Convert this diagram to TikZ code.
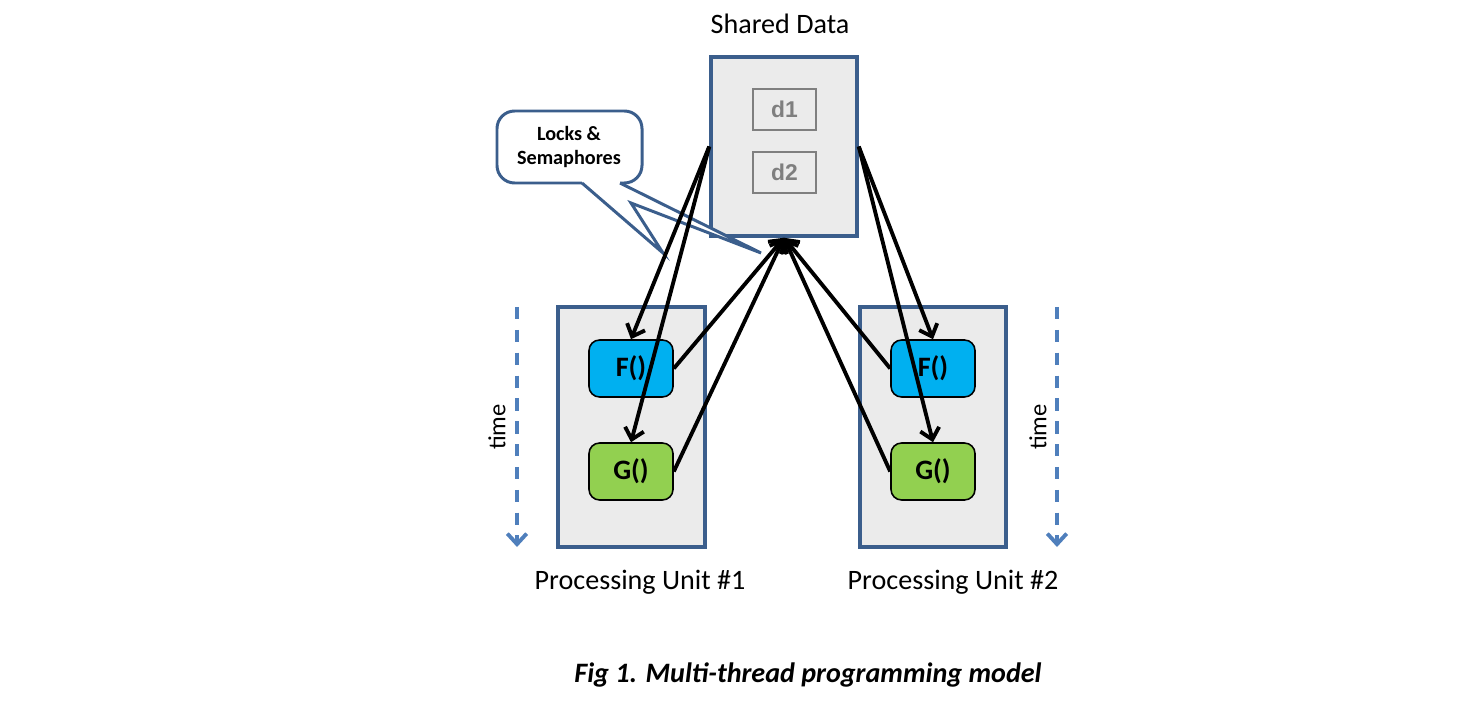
\documentclass[tikz,border=0pt]{standalone}
\usepackage{fontspec}
\setmainfont{Carlito}
\newfontfamily\datafont{Liberation Sans}
\usetikzlibrary{arrows.meta}

\definecolor{boxblue}{HTML}{3B5E8C}
\definecolor{timeblue}{HTML}{4F7FBC}
\definecolor{panelgray}{HTML}{EBEBEB}
\definecolor{fcyan}{HTML}{00B0F0}
\definecolor{ggreen}{HTML}{92D050}
\definecolor{dgray}{HTML}{7F7F7F}

\begin{document}
\begin{tikzpicture}[panel/.style={fill=panelgray, draw=boxblue, line width=2pt, rectangle, inner sep=0pt},
                    datum/.style={draw=dgray, line width=0.9pt, minimum width=1.26cm, minimum height=0.82cm, text=dgray, font=\datafont\bfseries\fontsize{13}{15}\selectfont},
                    func/.style={draw=black, line width=0.9pt, rounded corners=6pt, minimum width=1.68cm, minimum height=1.14cm, font=\bfseries\fontsize{16}{19}\selectfont},
                    heading/.style={font=\fontsize{16}{19}\selectfont},
                    callout/.style={draw=boxblue, line width=1.7pt, fill=white, rounded corners=10pt},
                    fleche/.style={line width=2.2pt, -{Straight Barb[length=6pt,width=11pt]}},
                    timeline/.style={draw=timeblue, line width=2.2pt, dash pattern=on 7pt off 6pt, -{Straight Barb[length=6pt,width=11pt]}}]

	\useasboundingbox (0,0) rectangle (29.38,14.08);

	\node[panel, minimum width=2.92cm, minimum height=3.58cm] (shared) at (15.68,11.15) {};
	\node[heading] (sharedtitle) at (15.6,13.6) {Shared Data};
	\node[datum] (d1) at (15.69,11.89) {d1};
	\node[datum] (d2) at (15.69,10.63) {d2};

	% callout box and its two pointers
	\draw[callout] (9.94,10.42) rectangle (12.84,11.86);
	\fill[white] (11.64,10.49) -- (11.64,10.42) -- (13.26,9.02) -- (12.62,10.02) -- (15.22,9.02) -- (12.40,10.42) -- (12.40,10.49) -- cycle;
	\draw[draw=boxblue, line width=1.7pt, line join=miter] (11.64,10.42) -- (13.26,9.02) -- (12.62,10.02) -- (15.22,9.02) -- (12.40,10.42);
	\node[font=\bfseries\fontsize{11.5}{14}\selectfont, align=center] (locks) at (11.38,11.14) {Locks \&\\ Semaphores};

	\node[panel, minimum width=2.94cm, minimum height=4.8cm] (unit1) at (12.63,5.54) {};
	\node[panel, minimum width=2.92cm, minimum height=4.8cm] (unit2) at (18.66,5.54) {};

	\node[func, fill=fcyan] (f1) at (12.62,6.71) {F()};
	\node[func, fill=ggreen] (g1) at (12.62,4.65) {G()};
	\node[func, fill=fcyan] (f2) at (18.66,6.71) {F()};
	\node[func, fill=ggreen] (g2) at (18.66,4.65) {G()};

	\node[heading] (unit1title) at (12.8,2.44) {Processing Unit \#1};
	\node[heading] (unit2title) at (19.06,2.44) {Processing Unit \#2};

	\coordinate (time1top) at (10.34,7.94);
	\coordinate (time1bot) at (10.34,3.14);
	\coordinate (time2top) at (21.14,7.94);
	\coordinate (time2bot) at (21.14,3.14);
	\draw[timeline] (time1top) -- (time1bot);
	\draw[timeline] (time2top) -- (time2bot);
	\node[rotate=90, font=\fontsize{14}{16}\selectfont] (time1) at (9.94,5.54) {time};
	\node[rotate=90, font=\fontsize{14}{16}\selectfont] (time2) at (20.76,5.54) {time};

	\path[fleche] (shared.west) edge (f1.north);
	\path[fleche] (shared.west) edge (g1.north);
	\path[fleche] (shared.east) edge (f2.north);
	\path[fleche] (shared.east) edge (g2.north);

	\path[fleche] (f1.east) edge (shared.south);
	\path[fleche] (g1.east) edge (shared.south);
	\path[fleche] (f2.west) edge (shared.south);
	\path[fleche] (g2.west) edge (shared.south);

	\node[font=\bfseries\itshape\fontsize{16}{19}\selectfont] (caption) at (16.16,0.58) {Fig 1. Multi-thread programming model};

\end{tikzpicture}
\end{document}
